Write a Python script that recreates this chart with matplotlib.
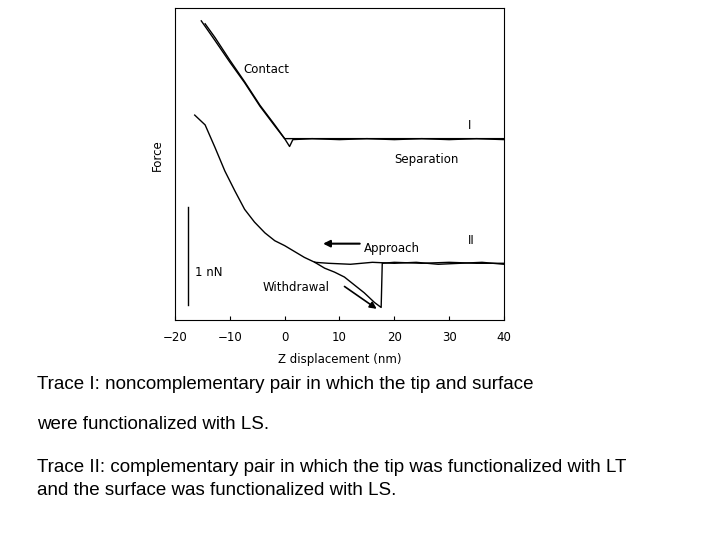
import matplotlib.pyplot as plt

# trace I (noncomplementary), z in nm, force in nN
t1_x = [-14.5, -12.7, -10.0, -7.3, -4.5, -1.8, 0.0, 0.9, 1.5, 5, 10, 15, 20, 25, 30, 35, 40]
t1_y = [3.02, 2.88, 2.65, 2.43, 2.19, 1.99, 1.85, 1.77, 1.84, 1.85, 1.84, 1.85, 1.84, 1.85, 1.84, 1.85, 1.84]
t1b_x = [-15.2, -12.7, -10.0, -7.3, -4.5, -1.8, 0.0, 1.0, 5, 40]
t1b_y = [3.05, 2.85, 2.63, 2.42, 2.18, 1.98, 1.85, 1.85, 1.85, 1.85]

# trace II (complementary)
shared_x = [-16.4, -14.5, -12.7, -10.9, -9.1, -7.3, -5.5, -3.6, -1.8, 0.0, 1.8, 3.6, 5.5]
shared_y = [2.09, 1.99, 1.76, 1.52, 1.32, 1.13, 1.00, 0.89, 0.81, 0.76, 0.70, 0.64, 0.59]
appr_x = [5.5, 8, 12, 16, 20, 24, 28, 32, 36, 40]
appr_y = [0.59, 0.58, 0.57, 0.59, 0.58, 0.59, 0.57, 0.58, 0.59, 0.57]
wd_x = [5.5, 7.3, 9.1, 10.9, 12.7, 14.5, 16.4, 17.6, 17.8, 20, 25, 30, 35, 40]
wd_y = [0.59, 0.53, 0.49, 0.44, 0.36, 0.28, 0.18, 0.13, 0.58, 0.59, 0.58, 0.59, 0.58, 0.58]

fig = plt.figure(figsize=(7.2, 5.4), dpi=100)
ax = fig.add_axes([0.243, 0.407, 0.457, 0.578])
kw = dict(color='black', lw=1.0)
ax.plot(t1_x, t1_y, **kw)
ax.plot(t1b_x, t1b_y, **kw)
ax.plot(shared_x, shared_y, **kw)
ax.plot(appr_x, appr_y, **kw)
ax.plot(wd_x, wd_y, **kw)

ax.set_xlim(-20, 40)
ax.set_ylim(0, 3.18)
ax.set_xticks([-20, -10, 0, 10, 20, 30, 40])
ax.set_yticks([])
ax.tick_params(axis='x', direction='in', length=3, labelsize=8.5, pad=8)
ax.set_xlabel('Z displacement (nm)', fontsize=8.5, labelpad=6)
ax.set_ylabel('Force', fontsize=8.5)
ax.yaxis.set_label_coords(-0.035, 0.53)

# scale bar
ax.plot([-17.6, -17.6], [0.15, 1.15], color='black', lw=1)
ax.text(-16.3, 0.45, '1 nN', fontsize=8.5)

ax.text(-7.5, 2.52, 'Contact', fontsize=8.5)
ax.text(33.5, 1.95, 'I', fontsize=8.5)
ax.text(20, 1.6, 'Separation', fontsize=8.5)
ax.text(33.5, 0.78, 'II', fontsize=8.5)
ax.text(14.5, 0.70, 'Approach', fontsize=8.5)
ax.annotate('', xy=(6.5, 0.78), xytext=(14.2, 0.78),
            arrowprops=dict(arrowstyle='-|>', color='black', lw=1.5))
ax.text(-4.0, 0.30, 'Withdrawal', fontsize=8.5)
ax.annotate('', xy=(17.2, 0.10), xytext=(10.5, 0.36),
            arrowprops=dict(arrowstyle='-|>', color='black', lw=1.2))

tk = dict(fontsize=13.5, family='Liberation Sans')
fig.text(0.052, 0.28, 'Trace I: noncomplementary pair in which the tip and surface', **tk)
fig.text(0.052, 0.206, 'were functionalized with LS.', **tk)
fig.text(0.052, 0.125, 'Trace II: complementary pair in which the tip was functionalized with LT', **tk)
fig.text(0.052, 0.084, 'and the surface was functionalized with LS.', **tk)

fig.savefig('out.png', dpi=100)
